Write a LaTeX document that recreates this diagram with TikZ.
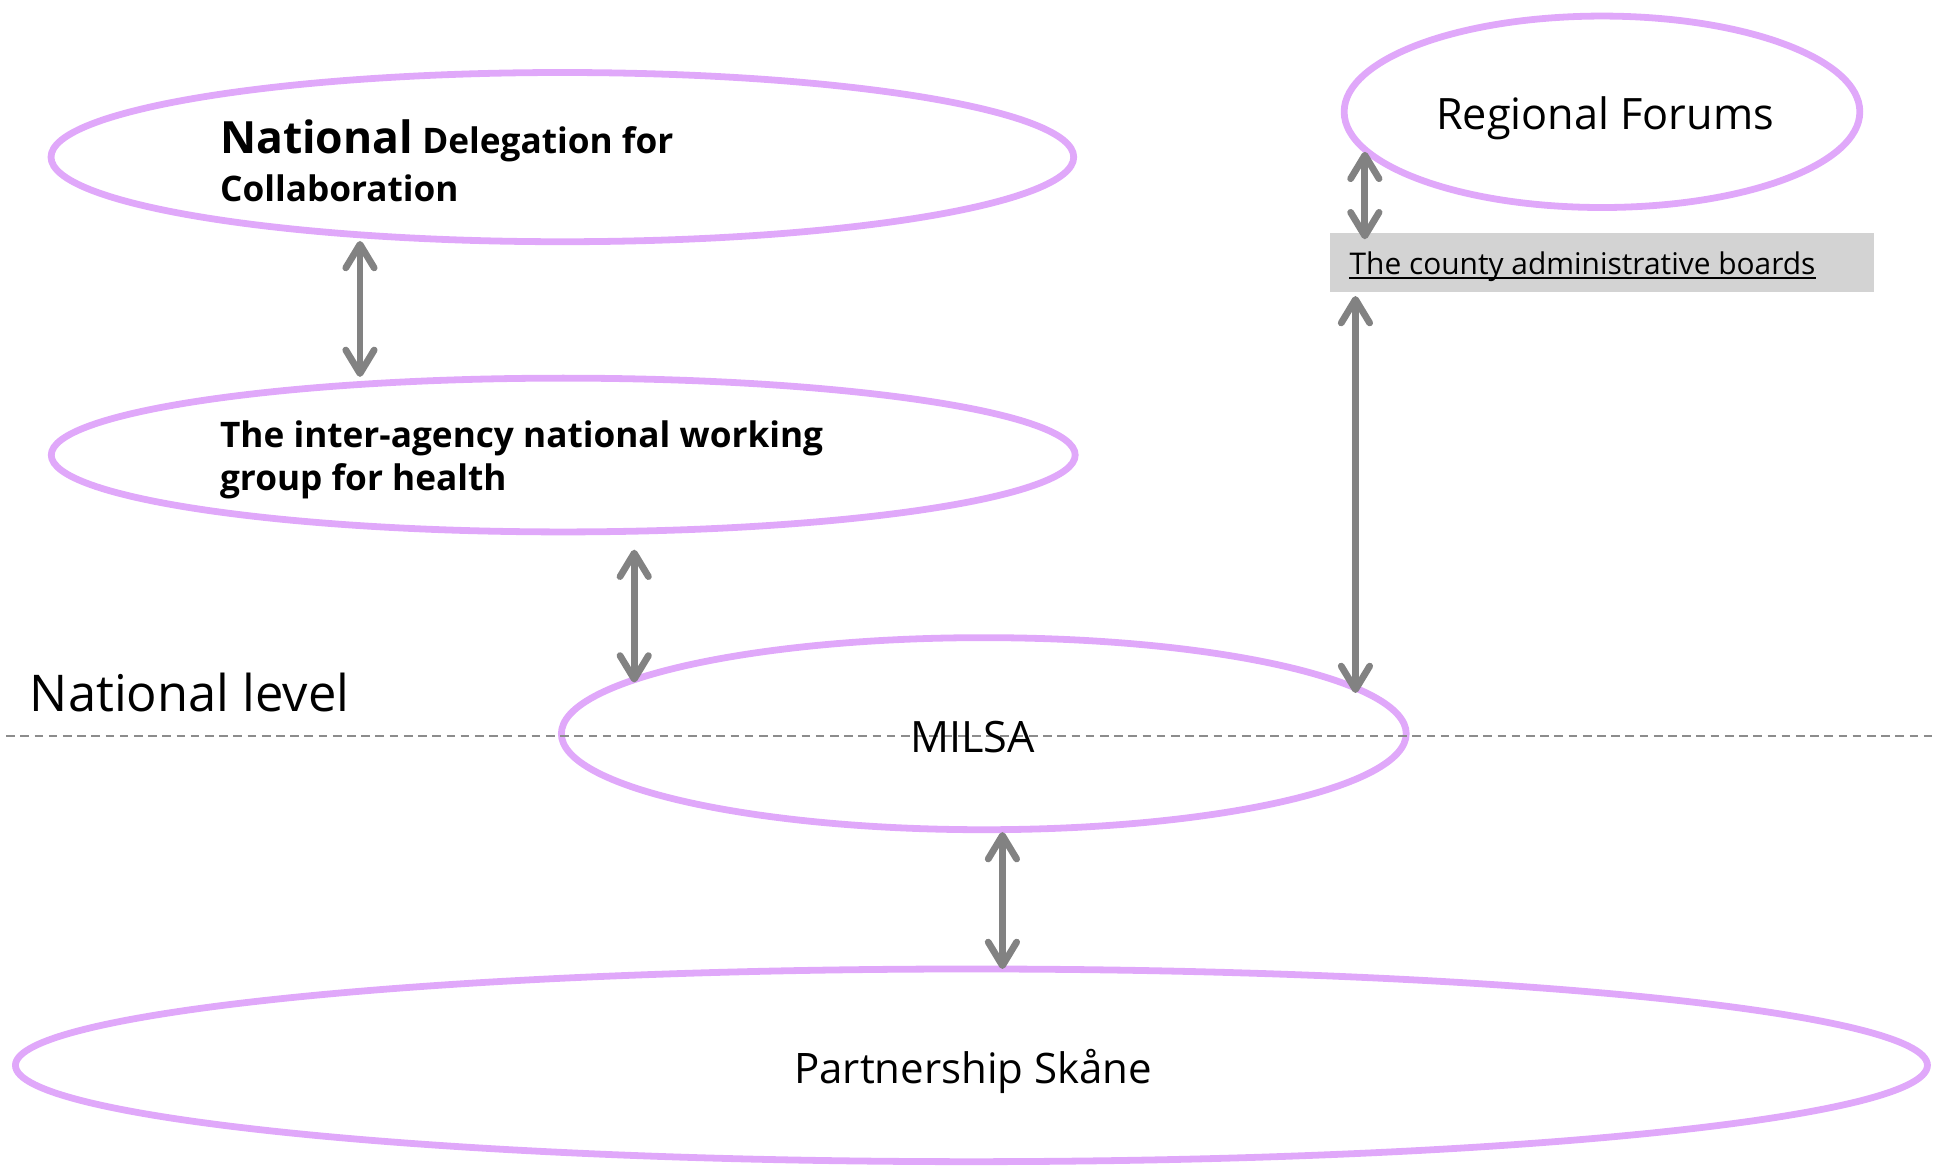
\documentclass[tikz,border=0pt]{standalone}
\usepackage{fontspec}
\setmainfont{Open Sans}
\usetikzlibrary{arrows.meta,shapes.geometric}
\definecolor{lilac}{RGB}{224,168,250}
\definecolor{linkgray}{RGB}{130,130,130}
\definecolor{boardgray}{RGB}{211,211,211}
\definecolor{dashgray}{RGB}{140,140,140}

\begin{document}
\begin{tikzpicture}[x=1pt,y=-1pt]
\tikzset{blob/.style ={ellipse, draw=lilac, line width=5.5pt, inner sep=0pt, outer sep=0pt},
  link/.style ={draw=linkgray, line width=5.5pt,
    {Straight Barb[length=19pt,width=23pt,round]}-{Straight Barb[length=19pt,width=23pt,round]}},
  txt/.style ={inner sep=0pt, anchor=base west},
  plain/.style ={font=\fontsize{35}{42}\selectfont},
  heavy/.style ={font=\bfseries\fontsize{28.5}{35}\selectfont}}
\useasboundingbox (0,0) rectangle (1565,945);
% boxes and ellipses
\node[fill=boardgray, minimum width=440.5pt, minimum height=48pt, inner sep=0pt, outer sep=0pt] (cbox) at (1297.3,212.7) {};
\node[blob, minimum width=828pt, minimum height=137pt] (deleg) at (455.3,127.2) {};
\node[blob, minimum width=829pt, minimum height=124.5pt] (inter) at (456,368.4) {};
\node[blob, minimum width=417.5pt, minimum height=155pt] (regional) at (1297,90.5) {};
\node[blob, minimum width=684pt, minimum height=155.5pt] (milsa) at (796.5,594) {};
\node[blob, minimum width=1548pt, minimum height=156pt] (partner) at (786.5,862.5) {};
% level line
\coordinate (lvlL) at (5,596);
\coordinate (lvlR) at (1565,596);
\draw[dashgray, line width=1.5pt, dash pattern=on 7pt off 4.5pt] (lvlL) -- (lvlR);
% arrows
\draw[link, shorten <=5pt, shorten >=1pt] (deleg.201) -- (deleg.201 |- inter.north);
\draw[link, shorten <=15pt, shorten >=-3pt] (inter.313) -- (inter.313 |- milsa.171);
\draw[link, shorten <=-4pt, shorten >=3pt] (milsa.7) -- (milsa.7 |- cbox.south);
\draw[link, shorten <=2pt, shorten >=-5pt] (regional.189) -- (regional.189 |- cbox.north);
\draw[link, shorten <=2pt] (milsa.281) -- (milsa.281 |- partner.north);
% texts
\node[txt, heavy] (natl) at (178,124) {{\fontsize{36}{40}\selectfont National} Delegation for};
\node[txt, heavy] (collab) at (178,163.5) {Collaboration};
\node[txt, heavy] (iag1) at (178,362) {The inter-agency national working};
\node[txt, heavy] (iag2) at (178,397) {group for health};
\node[txt, plain, anchor=base] (regtxt) at (1299.5,105) {Regional Forums};
\node[txt, font=\fontsize{24.2}{30}\selectfont] (cbtxt) at (1092.5,222) {The county administrative boards};
\draw[line width=1.6pt] ([yshift=-3pt]cbtxt.base west) -- ([yshift=-3pt]cbtxt.base east);
\node[txt, plain, anchor=base] (milsatxt) at (787.5,609) {MILSA};
\node[txt, font=\fontsize{34}{42}\selectfont, anchor=base] (parttxt) at (788,877) {Partnership Skåne};
\node[txt, font=\fontsize{41}{48}\selectfont] (level) at (24,576) {National level};
\end{tikzpicture}
\end{document}
